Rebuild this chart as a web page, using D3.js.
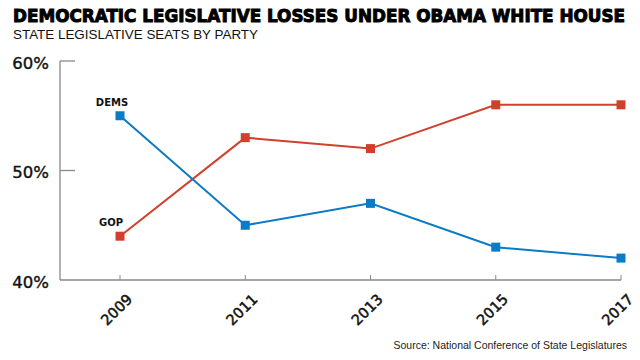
<!DOCTYPE html>
<html><head><meta charset="utf-8">
<script src="https://cdn.jsdelivr.net/npm/d3@7"></script>
<style>body{margin:0;background:#fff}svg{display:block}</style>
</head><body>
<svg id="c" width="640" height="360"></svg>
<script>
const years = ["2009","2011","2013","2015","2017"];
const dems = [55,45,47,43,42];
const gop = [44,53,52,56,56];
const yTicks = [40,50,60];
const title = "DEMOCRATIC LEGISLATIVE LOSSES UNDER OBAMA WHITE HOUSE";
const subtitle = "STATE LEGISLATIVE SEATS BY PARTY";
const source = "Source: National Conference of State Legislatures";

const svg = d3.select("#c");
const x = d3.scalePoint().domain(years).range([120, 621]);
const y = d3.scaleLinear().domain([40,60]).range([280, 61]);

svg.append("text").attr("transform","translate(13,22) scale(1,1.12)").attr("textLength",612).attr("lengthAdjust","spacingAndGlyphs")
  .style("font-family","DejaVu Sans").style("font-weight","bold").style("font-size","16px")
  .attr("stroke","#000").attr("stroke-width",0.9).attr("fill","#000").text(title);
svg.append("text").attr("x",13).attr("y",39).attr("textLength",245).attr("lengthAdjust","spacingAndGlyphs")
  .style("font-family","Liberation Sans").style("font-size","13.5px").attr("fill","#111").text(subtitle);

const axisColor = "#888";
svg.append("line").attr("x1",60).attr("x2",60).attr("y1",y(60)).attr("y2",y(40)).attr("stroke",axisColor).attr("stroke-width",1.3);
svg.append("line").attr("x1",60).attr("x2",621).attr("y1",y(40)).attr("y2",y(40)).attr("stroke",axisColor).attr("stroke-width",1.3);
yTicks.forEach(t=>{
  if(t!==40) svg.append("line").attr("x1",60).attr("x2",75).attr("y1",y(t)).attr("y2",y(t)).attr("stroke",axisColor).attr("stroke-width",1.3);
  svg.append("text").attr("x",49).attr("y",y(t)+2).attr("dy","0.35em").attr("text-anchor","end")
    .style("font-family","DejaVu Sans").style("font-size","16.5px").style("font-weight","500")
    .attr("stroke","#111").attr("stroke-width",0.4).attr("fill","#111").text(t+"%");
});
years.forEach(yr=>{
  svg.append("line").attr("x1",x(yr)).attr("x2",x(yr)).attr("y1",y(40)).attr("y2",y(40)-5).attr("stroke",axisColor).attr("stroke-width",1);
  svg.append("text").attr("transform",`translate(${x(yr)+6},${y(40)+13}) rotate(-45)`).attr("text-anchor","end")
    .attr("dy","0.7em").style("font-family","DejaVu Sans").style("font-size","14.5px").style("font-weight","500")
    .attr("stroke","#111").attr("stroke-width",0.5).attr("fill","#111").text(yr);
});

function series(vals, color){
  const pts = years.map((yr,i)=>[x(yr), y(vals[i])]);
  svg.append("path").attr("d", d3.line()(pts)).attr("fill","none").attr("stroke",color).attr("stroke-width",2);
  svg.selectAll(null).data(pts).enter().append("rect")
    .attr("x",d=>d[0]-4.5).attr("y",d=>d[1]-4.5).attr("width",9).attr("height",9).attr("fill",color);
}
series(gop, "#d1402c");
series(dems, "#0a7bc4");

svg.append("text").attr("x",x("2009")-8).attr("y",y(dems[0])-10).attr("text-anchor","middle")
  .style("font-family","DejaVu Sans").style("font-weight","bold").style("font-size","10px").attr("fill","#111").text("DEMS");
svg.append("text").attr("x",x("2009")-9).attr("y",y(gop[0])-10).attr("text-anchor","middle")
  .style("font-family","DejaVu Sans").style("font-weight","bold").style("font-size","10px").attr("fill","#111").text("GOP");

svg.append("text").attr("x",627).attr("y",349).attr("text-anchor","end")
  .style("font-family","Liberation Sans").style("font-size","10.5px").attr("fill","#222").text(source);
</script>
</body></html>
